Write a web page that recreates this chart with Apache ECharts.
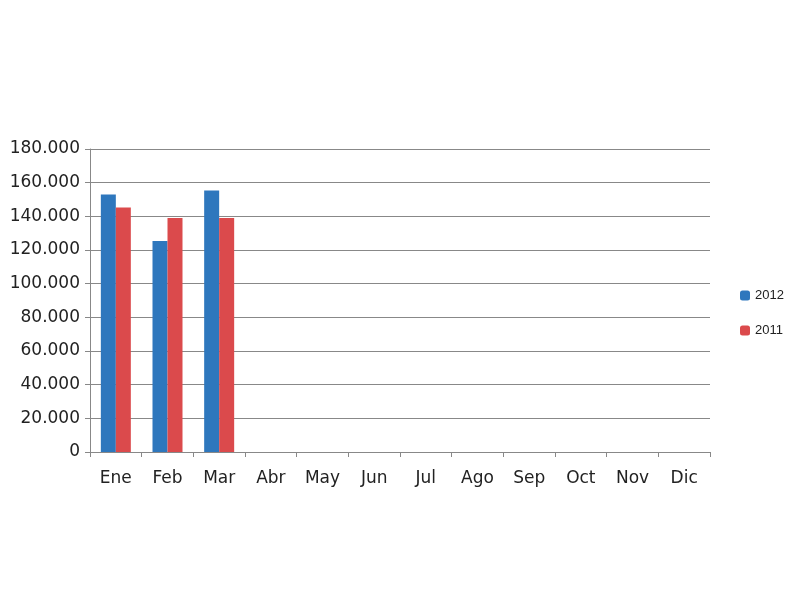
<!DOCTYPE html>
<html>
<head>
<meta charset="utf-8">
<script src="https://cdn.jsdelivr.net/npm/echarts@6/dist/echarts.min.js"></script>
<style>html,body{margin:0;background:#fff}#echart{width:800px;height:600px}</style>
</head>
<body>
<div id="echart"></div>
<script>
var months = ['Ene','Feb','Mar','Abr','May','Jun','Jul','Ago','Sep','Oct','Nov','Dic'];
var values2012 = [153000, 125300, 155300, null, null, null, null, null, null, null, null, null];
var values2011 = [145300, 139000, 139000, null, null, null, null, null, null, null, null, null];

var myChart = echarts.init(document.getElementById('echart'));

option = {
    animation: false,
    grid: { left: 90, right: 90, top: 149, bottom: 148 },
    legend: {
        orient: 'vertical',
        left: 735,
        top: 284,
        itemGap: 22,
        itemWidth: 10,
        itemHeight: 10,
        textStyle: { color: '#222', fontSize: 13, fontFamily: 'Liberation Sans' },
        data: ['2012', '2011']
    },
    xAxis: {
        type: 'category',
        data: months,
        axisLine: { lineStyle: { color: '#888' } },
        axisTick: { show: true, alignWithLabel: false, lineStyle: { color: '#888' } },
        axisLabel: { color: '#222', fontSize: 17, margin: 18, fontFamily: 'DejaVu Sans' }
    },
    yAxis: {
        type: 'value',
        min: 0, max: 180000, interval: 20000,
        axisLine: { show: true, lineStyle: { color: '#888' } },
        axisTick: { show: true, lineStyle: { color: '#888' } },
        splitLine: { lineStyle: { color: '#888' } },
        axisLabel: {
            color: '#222', fontSize: 17, margin: 10, fontFamily: 'DejaVu Sans',
            formatter: function (v) { return v === 0 ? '0' : (v / 1000).toFixed(3); }
        }
    },
    series: [
        { name: '2012', type: 'bar', data: values2012, barWidth: 15, barGap: '0%',
          itemStyle: { color: '#2e77bd' } },
        { name: '2011', type: 'bar', data: values2011, barWidth: 15,
          itemStyle: { color: '#db4a4c' } }
    ]
};

myChart.setOption(option);
</script>
</body>
</html>
